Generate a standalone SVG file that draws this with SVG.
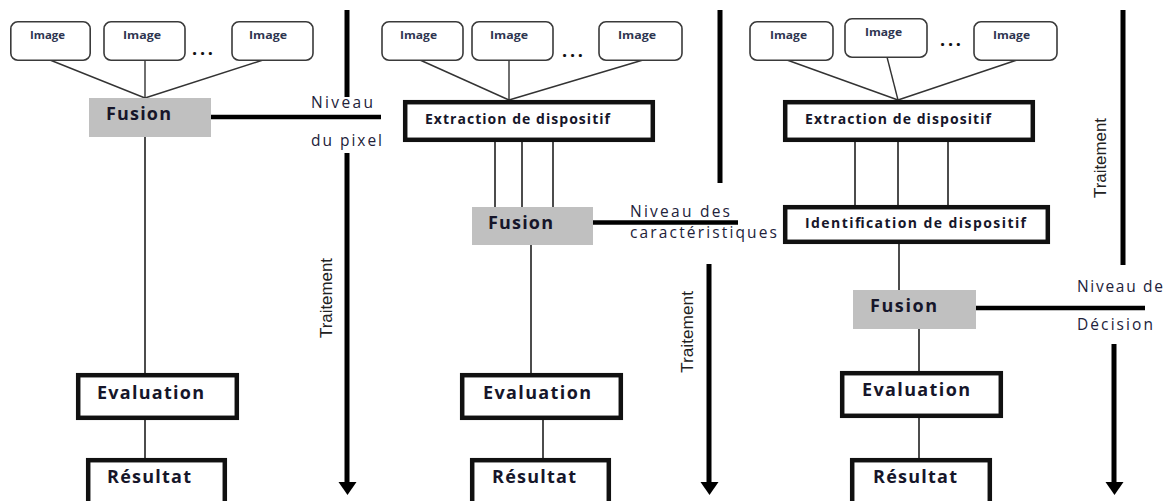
<svg xmlns="http://www.w3.org/2000/svg" width="1170" height="501" viewBox="0 0 1170 501">
  <defs>
    <style>
      .img { fill: #ffffff; stroke: #3a3a3a; stroke-width: 1.6; }
      .imgtxt { font-family: "Open Sans", "Liberation Sans", sans-serif; font-weight: bold; font-size: 10.5px; fill: #2e3550; }
      .dots { font-family: "Open Sans", "Liberation Sans", sans-serif; font-weight: bold; font-size: 18px; fill: #111; }
      .box { fill: #ffffff; stroke: #111; stroke-width: 4.5; }
      .fusion { fill: #c0c0c0; stroke: none; }
      .lbl { font-family: "Open Sans", "Liberation Sans", sans-serif; font-weight: bold; font-size: 18px; fill: #16162a; }
      .lblsm { font-family: "Open Sans", "Liberation Sans", sans-serif; font-weight: bold; font-size: 14px; fill: #16162a; }
      .lvl { font-family: "Open Sans", "Liberation Sans", sans-serif; font-size: 15.5px; fill: #22223a; }
      .proc { font-family: "Liberation Sans", "Arial", sans-serif; font-size: 17px; fill: #222; }
      .thin { stroke: #333; stroke-width: 1.4; fill: none; }
      .link { stroke: #111; stroke-width: 1.5; fill: none; }
      .thick { stroke: #000; stroke-width: 4.5; fill: none; }
      .axis { stroke: #000; stroke-width: 5; fill: none; }
      .head { fill: #000; }
    </style>
  </defs>

  <!-- connectors -->
  <g id="connectors">
    <!-- column 1 : pixel level -->
    <line class="thin" x1="50" y1="60" x2="145" y2="98"/>
    <line class="thin" x1="145" y1="60" x2="145" y2="98"/>
    <line class="thin" x1="263" y1="60" x2="145" y2="98"/>
    <line class="thick" x1="211" y1="117" x2="381" y2="117"/>
    <line class="link" x1="145" y1="137" x2="145" y2="373"/>
    <line class="link" x1="145" y1="420" x2="145" y2="458"/>

    <!-- column 2 : feature level -->
    <line class="thin" x1="420" y1="60" x2="509" y2="100"/>
    <line class="thin" x1="509" y1="60" x2="509" y2="100"/>
    <line class="thin" x1="643" y1="60" x2="509" y2="100"/>
    <line class="link" x1="495" y1="142" x2="495" y2="207"/>
    <line class="link" x1="522" y1="142" x2="522" y2="207"/>
    <line class="link" x1="553" y1="142" x2="553" y2="207"/>
    <line class="thick" x1="593" y1="222.5" x2="738" y2="222.5"/>
    <line class="link" x1="531" y1="245" x2="531" y2="373"/>
    <line class="link" x1="543" y1="420" x2="543" y2="458"/>

    <!-- column 3 : decision level -->
    <line class="thin" x1="787" y1="60" x2="898" y2="100"/>
    <line class="thin" x1="887" y1="57" x2="898" y2="100"/>
    <line class="thin" x1="1017" y1="60" x2="898" y2="100"/>
    <line class="link" x1="855" y1="142" x2="855" y2="205"/>
    <line class="link" x1="898" y1="142" x2="898" y2="205"/>
    <line class="link" x1="948" y1="142" x2="948" y2="205"/>
    <line class="link" x1="899" y1="244" x2="899" y2="290"/>
    <line class="thick" x1="976" y1="308" x2="1145" y2="308"/>
    <line class="link" x1="919" y1="329" x2="919" y2="371"/>
    <line class="link" x1="919" y1="418" x2="919" y2="458" stroke="#666"/>

    <!-- processing axes -->
    <line class="axis" x1="347" y1="10" x2="347" y2="97"/>
    <line class="axis" x1="347" y1="153" x2="347" y2="484"/>
    <polygon class="head" points="338.5,482 356.5,482 347.5,495"/>

    <line class="axis" x1="720" y1="10" x2="720" y2="183"/>
    <line class="axis" x1="709" y1="264" x2="709" y2="484"/>
    <polygon class="head" points="700.5,482 718.5,482 709.5,495"/>

    <line class="axis" x1="1123" y1="10" x2="1123" y2="265"/>
    <line class="axis" x1="1114" y1="344" x2="1114" y2="484"/>
    <polygon class="head" points="1105.5,482 1123.5,482 1114.5,495"/>
  </g>

  <!-- column 1 nodes -->
  <g id="c1-image-1"><rect class="img" x="10.8" y="21.8" width="79.4" height="38.4" rx="7"/><text class="imgtxt" x="30" y="39" textLength="35" lengthAdjust="spacingAndGlyphs">Image</text></g>
  <g id="c1-image-2"><rect class="img" x="104" y="21.8" width="81" height="38.4" rx="7"/><text class="imgtxt" x="123" y="39" textLength="38" lengthAdjust="spacingAndGlyphs">Image</text></g>
  <text class="dots" x="192" y="55" textLength="21" lengthAdjust="spacing">...</text>
  <g id="c1-image-3"><rect class="img" x="232" y="21.8" width="81" height="38.4" rx="7"/><text class="imgtxt" x="249" y="39" textLength="38" lengthAdjust="spacingAndGlyphs">Image</text></g>
  <g id="c1-fusion"><rect class="fusion" x="89" y="98" width="122" height="39"/><text class="lbl" x="106" y="120" textLength="65" lengthAdjust="spacing">Fusion</text></g>
  <g id="c1-level">
    <text class="lvl" x="311" y="108" textLength="62" lengthAdjust="spacing">Niveau</text>
    <text class="lvl" x="311" y="146" textLength="71" lengthAdjust="spacing">du pixel</text>
  </g>
  <g id="c1-evaluation"><rect class="box" x="78.2" y="375.2" width="158.6" height="42.6"/><text class="lbl" x="97" y="399" textLength="107" lengthAdjust="spacing">Evaluation</text></g>
  <g id="c1-resultat"><rect class="box" x="88.2" y="460.2" width="136.6" height="50"/><text class="lbl" x="107" y="483" textLength="84" lengthAdjust="spacing">Résultat</text></g>
  <text class="proc" transform="translate(332 338) rotate(-90)" textLength="80" lengthAdjust="spacingAndGlyphs">Traitement</text>

  <!-- column 2 nodes -->
  <g id="c2-image-1"><rect class="img" x="382" y="21.8" width="81" height="38.4" rx="7"/><text class="imgtxt" x="400" y="39" textLength="37" lengthAdjust="spacingAndGlyphs">Image</text></g>
  <g id="c2-image-2"><rect class="img" x="472" y="21.8" width="81" height="38.4" rx="7"/><text class="imgtxt" x="490" y="39" textLength="38" lengthAdjust="spacingAndGlyphs">Image</text></g>
  <text class="dots" x="562" y="57" textLength="21" lengthAdjust="spacing">...</text>
  <g id="c2-image-3"><rect class="img" x="599" y="21.8" width="83" height="38.4" rx="7"/><text class="imgtxt" x="618" y="39" textLength="38" lengthAdjust="spacingAndGlyphs">Image</text></g>
  <g id="c2-extraction"><rect class="box" x="405.2" y="102.2" width="247.6" height="37.6"/><text class="lblsm" x="425" y="124" textLength="185" lengthAdjust="spacing">Extraction de dispositif</text></g>
  <g id="c2-fusion"><rect class="fusion" x="472" y="207" width="121" height="38"/><text class="lbl" x="488" y="229" textLength="65" lengthAdjust="spacing">Fusion</text></g>
  <g id="c2-level">
    <text class="lvl" x="630" y="217" textLength="100" lengthAdjust="spacing">Niveau des</text>
    <text class="lvl" x="630" y="238" textLength="147" lengthAdjust="spacing">caractéristiques</text>
  </g>
  <g id="c2-evaluation"><rect class="box" x="462.2" y="375.2" width="158.6" height="42.6"/><text class="lbl" x="483" y="399" textLength="108" lengthAdjust="spacing">Evaluation</text></g>
  <g id="c2-resultat"><rect class="box" x="472.2" y="460.2" width="136.6" height="50"/><text class="lbl" x="492" y="483" textLength="84" lengthAdjust="spacing">Résultat</text></g>
  <text class="proc" transform="translate(693 373) rotate(-90)" textLength="82" lengthAdjust="spacingAndGlyphs">Traitement</text>

  <!-- column 3 nodes -->
  <g id="c3-image-1"><rect class="img" x="750" y="21.8" width="83" height="38.4" rx="7"/><text class="imgtxt" x="770" y="39" textLength="37" lengthAdjust="spacingAndGlyphs">Image</text></g>
  <g id="c3-image-2"><rect class="img" x="845" y="18.8" width="82" height="38.4" rx="7"/><text class="imgtxt" x="865" y="36" textLength="37" lengthAdjust="spacingAndGlyphs">Image</text></g>
  <text class="dots" x="940" y="46" textLength="21" lengthAdjust="spacing">...</text>
  <g id="c3-image-3"><rect class="img" x="974" y="21.8" width="83" height="38.4" rx="7"/><text class="imgtxt" x="993" y="39" textLength="37" lengthAdjust="spacingAndGlyphs">Image</text></g>
  <g id="c3-extraction"><rect class="box" x="785.2" y="102.2" width="247.6" height="37.6"/><text class="lblsm" x="805" y="124" textLength="186" lengthAdjust="spacing">Extraction de dispositif</text></g>
  <g id="c3-identification"><rect class="box" x="785.2" y="207.2" width="262.6" height="34.6"/><text class="lblsm" x="805" y="228" textLength="221" lengthAdjust="spacing">Identification  de dispositif</text></g>
  <g id="c3-fusion"><rect class="fusion" x="853" y="290" width="123" height="39"/><text class="lbl" x="870" y="312" textLength="67" lengthAdjust="spacing">Fusion</text></g>
  <g id="c3-level">
    <text class="lvl" x="1077" y="292" textLength="86" lengthAdjust="spacing">Niveau de</text>
    <text class="lvl" x="1077" y="330" textLength="76" lengthAdjust="spacing">Décision</text>
  </g>
  <g id="c3-evaluation"><rect class="box" x="842.2" y="373.2" width="158.6" height="42.6"/><text class="lbl" x="862" y="396" textLength="108" lengthAdjust="spacing">Evaluation</text></g>
  <g id="c3-resultat"><rect class="box" x="852.2" y="460.2" width="137.6" height="50"/><text class="lbl" x="873" y="483" textLength="84" lengthAdjust="spacing">Résultat</text></g>
  <text class="proc" transform="translate(1106 198) rotate(-90)" textLength="80" lengthAdjust="spacingAndGlyphs">Traitement</text>
</svg>
